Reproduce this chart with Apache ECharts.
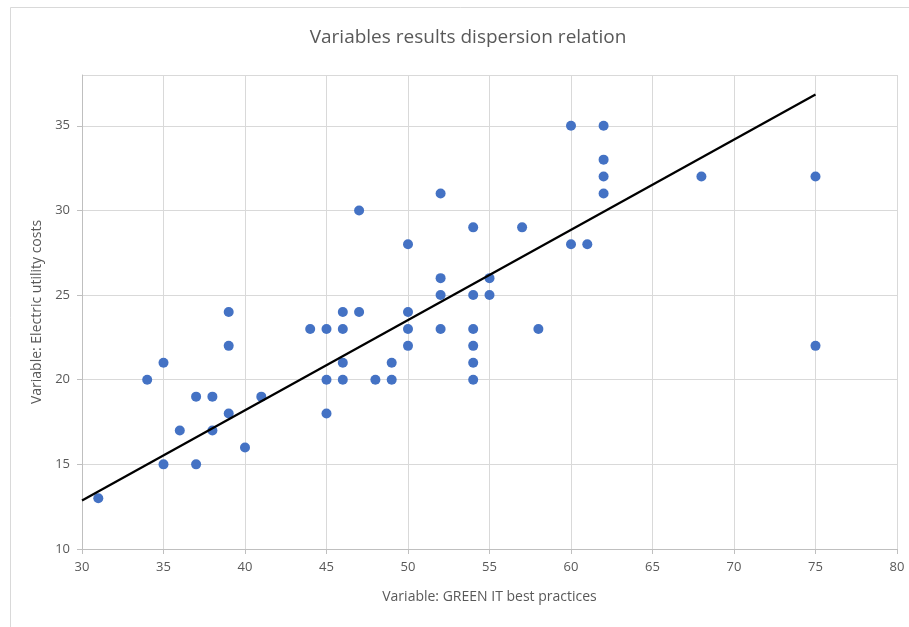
<!DOCTYPE html>
<html>
<head>
<meta charset="utf-8">
<script src="https://cdn.jsdelivr.net/npm/echarts@6/dist/echarts.min.js"></script>
<style>
html,body{margin:0;padding:0;background:#fff;}
#chart{width:909px;height:627px;}
</style>
</head>
<body>
<div id="chart"></div>
<script>
// Data
const xValues = [31,34,35,35,36,37,37,38,38,39,39,39,40,41,44,45,45,45,46,46,46,46,47,47,48,49,49,50,50,50,50,52,52,52,52,54,54,54,54,54,54,55,55,57,58,60,60,61,62,62,62,62,68,75,75];
const yValues = [13,20,21,15,17,19,15,19,17,24,22,18,16,19,23,23,20,18,24,23,21,20,30,24,20,21,20,28,24,23,22,31,26,25,23,29,25,23,22,21,20,26,25,29,23,35,28,28,35,33,32,31,32,32,22];
// Trendline end points
const trendX = [30, 75];
const trendY = [12.87, 36.85];
const xTicks = [30,35,40,45,50,55,60,65,70,75,80];
const yTicks = [10,15,20,25,30,35];

const points = xValues.map((x, i) => [x, yValues[i]]);
const trend = trendX.map((x, i) => [x, trendY[i]]);

const chart = echarts.init(document.getElementById('chart'), null, {renderer: 'canvas'});
const font = '"Open Sans", "Noto Sans", sans-serif';
chart.setOption({
  animation: false,
  backgroundColor: '#ffffff',
  graphic: [{
    type: 'rect', silent: true, z: -10,
    shape: {x: 10.5, y: 7.5, width: 1000, height: 1000},
    style: {fill: 'none', stroke: '#d9d9d9', lineWidth: 1}
  }],
  title: {
    text: 'Variables results dispersion relation',
    left: 463, top: 23, textAlign: 'center',
    textStyle: {fontFamily: font, fontSize: 19, fontWeight: 'normal', color: '#595959'}
  },
  grid: {left: 82, right: 12, top: 75, bottom: 78, containLabel: false},
  xAxis: {
    type: 'value', min: 30, max: 80, interval: 5,
    name: 'Variable: GREEN IT best practices',
    nameLocation: 'middle', nameGap: 41,
    nameTextStyle: {fontFamily: font, fontSize: 14, color: '#595959'},
    axisLine: {show: true, onZero: false, lineStyle: {color: '#bfbfbf', width: 1}},
    axisTick: {show: true, length: 5, lineStyle: {color: '#bfbfbf'}, customValues: xTicks},
    axisLabel: {fontFamily: font, fontSize: 13, color: '#595959', margin: 12, customValues: xTicks},
    splitLine: {show: true, lineStyle: {color: '#d9d9d9', width: 1}}
  },
  yAxis: [
    {
      type: 'value', min: 10, max: 38, interval: 1,
      name: 'Variable: Electric utility costs',
      nameLocation: 'middle', nameGap: 33,
      nameTextStyle: {fontFamily: font, fontSize: 14, color: '#595959'},
      axisLine: {show: true, lineStyle: {color: '#bfbfbf', width: 1}},
      axisTick: {show: true, length: 5, lineStyle: {color: '#bfbfbf'}, customValues: yTicks},
      axisLabel: {fontFamily: font, fontSize: 13, color: '#595959', margin: 12, customValues: yTicks},
      splitLine: {show: true, lineStyle: {color: '#f0f0f0', width: 1}}
    },
    {
      // major grid lines on the same 10..38 scale
      type: 'value', min: 10, max: 38, interval: 5, position: 'left',
      axisLine: {show: false}, axisTick: {show: false}, axisLabel: {show: false},
      splitLine: {show: true, lineStyle: {color: '#d9d9d9', width: 1}}
    }
  ],
  series: [
    {
      type: 'scatter', data: points, symbol: 'circle', symbolSize: 10,
      itemStyle: {color: '#4472C4', opacity: 1}, z: 3
    },
    {
      type: 'line', data: trend, symbol: 'none', z: 4,
      lineStyle: {color: '#000000', width: 2.25}
    }
  ]
});
</script>
</body>
</html>
